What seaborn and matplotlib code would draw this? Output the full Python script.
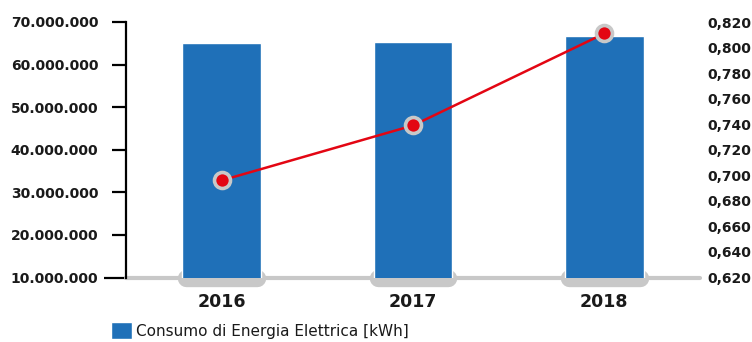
import numpy as np
import pandas as pd
import matplotlib
matplotlib.use("Agg")
import matplotlib.pyplot as plt
import seaborn as sns
from matplotlib.ticker import FuncFormatter

# Data
years = ["2016", "2017", "2018"]
consumo_kwh = [65_100_000, 65_400_000, 66_700_000]
indice = [0.696, 0.739, 0.811]
left_ticks = [10_000_000, 20_000_000, 30_000_000, 40_000_000, 50_000_000, 60_000_000, 70_000_000]
right_ticks = [0.62, 0.64, 0.66, 0.68, 0.70, 0.72, 0.74, 0.76, 0.78, 0.80, 0.82]
legend_label = "Consumo di Energia Elettrica [kWh]"

BLUE = "#1f70b8"
RED = "#e30613"
GREY = "#c8c8c8"

sns.set_theme(style="white")
plt.rcParams["font.family"] = ["DejaVu Sans"]

df = pd.DataFrame({"anno": years, "consumo": consumo_kwh})

fig = plt.figure(figsize=(7.52, 3.42), dpi=100)
ax = fig.add_axes([126 / 752, 1 - 277.5 / 342, (700 - 126) / 752, 255.5 / 342])

ymin, ymax = left_ticks[0], left_ticks[-1]

# grey baseline and rounded pads under each bar
ax.axhline(ymin, color=GREY, lw=3, zorder=1, clip_on=False)
bar_w = 0.41
for i in range(len(years)):
    ax.plot([i - bar_w / 2 + 0.02, i + bar_w / 2 - 0.02], [ymin, ymin], color=GREY,
            lw=12.5, solid_capstyle="round", zorder=1.5, clip_on=False)

sns.barplot(data=df, x="anno", y="consumo", color=BLUE, width=bar_w,
            saturation=1, ax=ax, zorder=2)
for p in ax.patches:
    p.set_zorder(2)
bars = ax.containers[0]

ax.set_ylim(ymin, ymax)
ax.set_xlim(-0.5, 2.5)
ax.set_yticks(left_ticks)
ax.yaxis.set_major_formatter(FuncFormatter(lambda v, _: f"{int(v):,}".replace(",", ".")))
ax.set_xlabel("")
ax.set_ylabel("")

for s in ["top", "right", "bottom"]:
    ax.spines[s].set_visible(False)
ax.spines["left"].set_color("black")
ax.spines["left"].set_linewidth(1.6)
ax.tick_params(axis="y", direction="out", length=10, width=1.6, color="black",
               pad=10, labelsize=10)
ax.tick_params(axis="x", length=0, pad=11, labelsize=12.5)
for t in ax.get_yticklabels():
    t.set_fontweight("bold")
    t.set_color("#1a1a1a")
for t in ax.get_xticklabels():
    t.set_fontweight("bold")
    t.set_color("#1a1a1a")
# longer tick at the baseline
ax.yaxis.get_major_ticks()[0].tick1line.set_markersize(16)

# secondary axis with the index line
ax2 = ax.twinx()
sns.lineplot(x=np.arange(len(years)), y=indice, ax=ax2, color=RED, lw=1.8,
             marker="o", markersize=11.5, markerfacecolor=RED,
             markeredgecolor=GREY, markeredgewidth=2.6, zorder=5)
ax2.set_ylim(right_ticks[0], right_ticks[-1])
ax2.set_yticks(right_ticks)
ax2.yaxis.set_major_formatter(FuncFormatter(lambda v, _: f"{v:.3f}".replace(".", ",")))
ax2.tick_params(axis="y", length=0, pad=5, labelsize=10)
for t in ax2.get_yticklabels():
    t.set_fontweight("bold")
    t.set_color("#1a1a1a")
for s in ax2.spines.values():
    s.set_visible(False)
ax2.set_ylabel("")
ax2.set_xlim(-0.5, 2.5)

fig.legend(handles=[bars.patches[0]], labels=[legend_label], loc="lower left",
           bbox_to_anchor=(111 / 752, 3 / 342), frameon=False,
           handlelength=1.35, handleheight=1.35, handletextpad=0.3,
           borderpad=0, borderaxespad=0, fontsize=11, labelcolor="#1a1a1a")

fig.savefig("out.png", dpi=100)
